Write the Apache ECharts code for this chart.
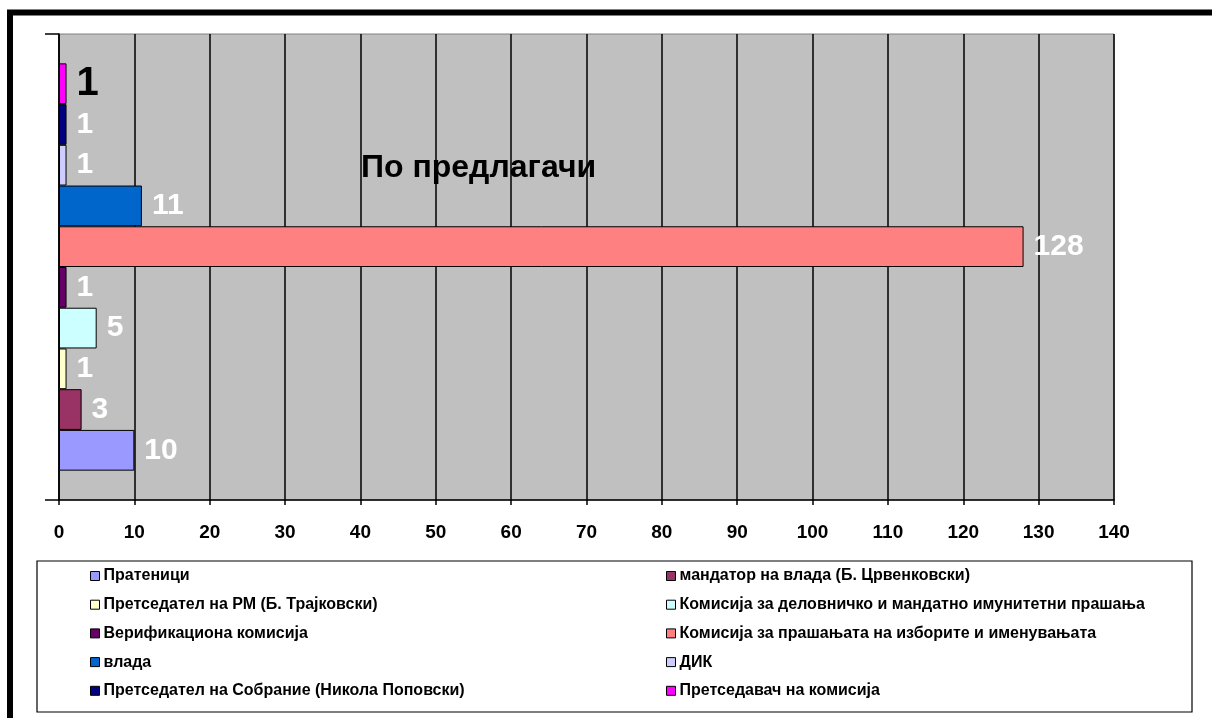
<!DOCTYPE html>
<html>
<head>
<meta charset="utf-8">
<title>По предлагачи</title>
<script src="https://cdn.jsdelivr.net/npm/echarts@6/dist/echarts.min.js"></script>
<style>
  html, body { margin: 0; padding: 0; background: #fff; }
  #container { width: 1212px; height: 718px; }
</style>
</head>
<body>
<div id="container"></div>
<script>
  // податоци од графиконот
  const categories = ['По предлагачи'];
  const seriesNames = [
    'Пратеници',
    'мандатор на влада (Б. Црвенковски)',
    'Претседател на РМ (Б. Трајковски)',
    'Комисија за деловничко и мандатно имунитетни прашања',
    'Верификациона комисија',
    'Комисија за прашањата на изборите и именувањата',
    'влада',
    'ДИК',
    'Претседател на Собрание (Никола Поповски)',
    'Претседавач на комисија'
  ];
  const seriesValues = [10, 3, 1, 5, 1, 128, 11, 1, 1, 1];
  const seriesColors = ['#9999FF', '#993366', '#FFFFCC', '#CCFFFF', '#660066',
                        '#FF8080', '#0066CC', '#CCCCFF', '#000080', '#FF00FF'];
  const xMin = 0, xMax = 140, xStep = 10;

  const font = 'Arial, "Liberation Sans", sans-serif';
  let chart = echarts.init(document.getElementById('container'));

  let series = seriesNames.map(function (name, i) {
    let last = i === seriesNames.length - 1;
    return {
      name: name,
      type: 'bar',
      data: [seriesValues[i]],
      barGap: '0%',
      barCategoryGap: '12.6%',
      itemStyle: { color: seriesColors[i], borderColor: '#000', borderWidth: 1 },
      label: {
        show: true,
        position: 'right',
        distance: 10,
        color: last ? '#000' : '#fff',
        fontFamily: font,
        fontWeight: 'bold',
        fontSize: last ? 40 : 30
      },
      emphasis: { disabled: true }
    };
  });
  // во ECharts првата серија оди горе, па редоследот се превртува
  series.reverse();

  // легенда во две колони
  function legendCol(left, idx) {
    return {
      orient: 'vertical',
      left: left,
      top: 568,
      padding: 0,
      itemWidth: 9,
      itemHeight: 9,
      itemGap: 12.7,
      icon: 'rect',
      selectedMode: false,
      itemStyle: { borderColor: '#000', borderWidth: 1 },
      textStyle: { fontFamily: font, fontWeight: 'bold', fontSize: 16, lineHeight: 16, color: '#000', padding: [0, 0, 0, -1] },
      data: idx.map(function (i) { return seriesNames[i]; })
    };
  }

  chart.setOption({
    animation: false,
    backgroundColor: '#fff',
    title: {
      text: categories[0],
      left: 356,
      top: 147,
      textStyle: { fontFamily: font, fontWeight: 'bold', fontSize: 32, color: '#000' }
    },
    grid: {
      left: 59, right: 98, top: 34, bottom: 218,
      show: true,
      backgroundColor: '#C0C0C0',
      borderColor: '#808080',
      borderWidth: 1
    },
    legend: [legendCol(90, [0, 2, 4, 6, 8]), legendCol(666, [1, 3, 5, 7, 9])],
    xAxis: {
      type: 'value',
      min: xMin,
      max: xMax,
      interval: xStep,
      axisLine: { show: true, lineStyle: { color: '#000', width: 1.5 } },
      axisTick: { show: true, length: 5, lineStyle: { color: '#000', width: 1.5 } },
      splitLine: { show: true, lineStyle: { color: '#000', width: 1.5 } },
      axisLabel: { margin: 23, color: '#000', fontFamily: font, fontWeight: 'bold', fontSize: 19 }
    },
    yAxis: {
      type: 'category',
      data: categories,
      axisLine: { show: true, lineStyle: { color: '#000', width: 1.5 } },
      axisTick: { show: true, length: 14, lineStyle: { color: '#000', width: 1.5 } },
      axisLabel: { show: false }
    },
    graphic: [
      {
        type: 'rect',
        shape: { x: 37, y: 561, width: 1155, height: 151 },
        style: { fill: 'none', stroke: '#000', lineWidth: 1.2 }
      },
      {
        type: 'rect',
        shape: { x: 10, y: 12.5, width: 1400, height: 900 },
        style: { fill: 'none', stroke: '#000', lineWidth: 6 }
      }
    ],
    series: series
  });
</script>
</body>
</html>
